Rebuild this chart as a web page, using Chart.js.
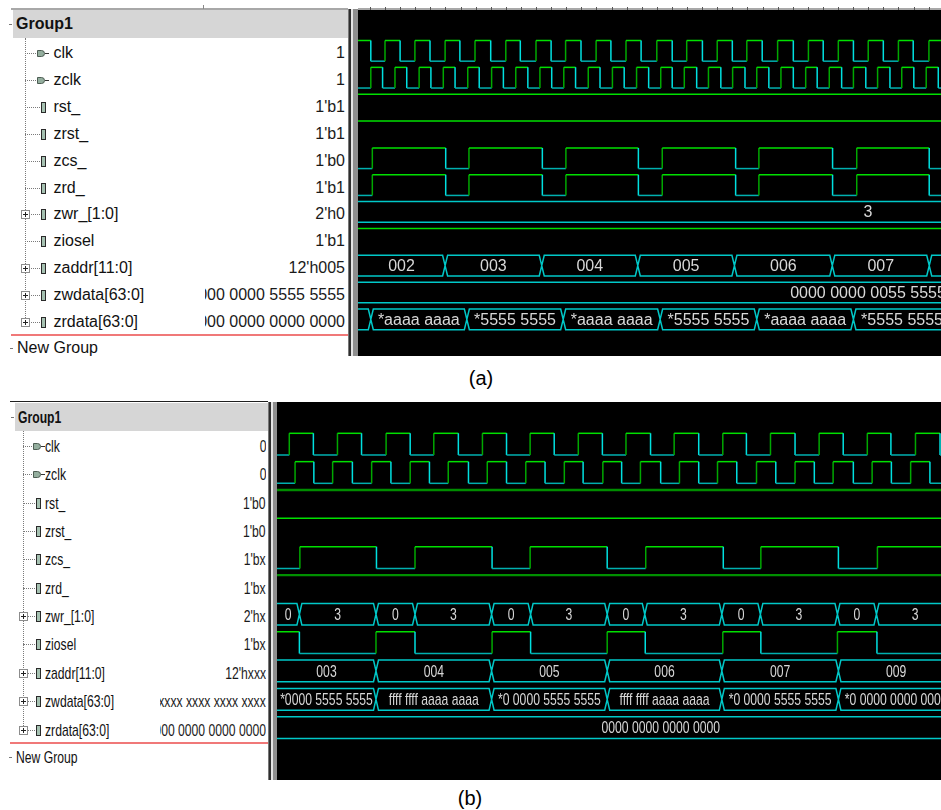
<!DOCTYPE html>
<html><head><meta charset="utf-8">
<script src="https://cdn.jsdelivr.net/npm/chart.js@4.4.1/dist/chart.umd.min.js"></script>
<style>
html,body{margin:0;padding:0;background:#fff;width:941px;height:810px;overflow:hidden;font-family:"Liberation Sans",Arial,sans-serif;color:#111;}
.a{position:absolute;box-sizing:border-box;}
.t{position:absolute;white-space:nowrap;}
canvas{position:absolute;}
</style></head><body>
<script>
// ================= DATA =================
const signalNames = ['clk','zclk','rst_','zrst_','zcs_','zrd_','zwr_[1:0]','ziosel','zaddr[11:0]','zwdata[63:0]','zrdata[63:0]'];
const signalIcons = ['clock','clock','bit','bit','bit','bit','bus','bit','bus','bus','bus'];
const cursorValuesA = ['1','1',"1'b1","1'b1","1'b0","1'b1","2'h0","1'b1","12'h005","64'h0000 0000 5555 5555","64'h0000 0000 0000 0000"];
const cursorValuesB = ['0','0',"1'b0","1'b0","1'bx","1'bx","2'hx","1'bx","12'hxxx","64'hxxxx xxxx xxxx xxxx","64'h0000 0000 0000 0000"];
const groupName = 'Group1';
const newGroupName = 'New Group';
const captions = ['(a)','(b)'];

// ---- panel (a): times in ns ----
const clkA_start = 1;
const clkA_edges = [5.3,10.0,15.0,19.9,24.9,29.9,34.8,39.8,45.0,50.0,54.8,60.0,65.0,69.8,74.9,79.9,84.8,89.8,94.8,100.0,105.1,109.9,115.1,120.0,125.0,129.8,134.9,140.0,145.2,150.2,155.1,160.1,165.1,170.0,175.0,180.0,184.9,190.1];
const zclkA_start = 0;
const zclkA_edges = [5.3,9.2,13.3,17.2,21.3,25.2,29.3,33.2,37.4,41.2,45.3,49.2,53.3,57.3,61.3,65.2,69.2,73.1,77.3,81.2,85.3,89.2,93.3,97.3,101.3,105.1,109.1,113.2,117.1,121.2,125.1,129.2,133.1,137.1,141.1,145.2,149.3,153.1,157.1,161.2,165.1,169.2,173.1,177.2,181.1,185.1,189.2,193.2];
const rstA_start = 1;   const rstA_edges = [];
const zrstA_start = 1;  const zrstA_edges = [];
const zcsA_start = 0;   const zcsA_edges = [5.8,30.1,37.8,62.1,69.9,93.9,101.8,126.1,133.8,158.2,166.2,190.2];
const zrdA_start = 0;   const zrdA_edges = [5.8,30.1,37.8,62.1,69.9,93.9,101.8,126.1,133.8,158.2,166.2,190.2];
const zioselA_start = 1; const zioselA_edges = [];
const zwrA_times = [338.8];
const zwrA_vals = ['3',''];
const zaddrA_times = [29.9,61.9,93.7,125.7,158.1,190.2,222.2];
const zaddrA_vals = ['002','003','004','005','006','007','008',''];
const zwdataA_times = [338.8];
const zwdataA_vals = ['0000 0000 0055 5555',''];
const zrdataA_times = [5.3,37.1,69.0,101.1,133.1,165.1,197.3];
const zrdataA_vals = ['*5555 5555','*aaaa aaaa','*5555 5555','*aaaa aaaa','*5555 5555','*aaaa aaaa','*5555 5555',''];

// ---- panel (b): times in ns ----
const clkB_start = 0;
const clkB_edges = [10.0,15.0,20.0,25.0,30.1,35.1,40.0,45.1,50.1,55.1,60.0,65.0,70.0,75.0,79.9,85.0,89.9,95.0,100.0,104.9,109.9,115.0,120.0,125.0,130.0,134.9,140.0,145.1];
const zclkB_start = 0;
const zclkB_edges = [11.2,15.1,19.0,23.1,27.1,31.1,35.1,39.1,43.0,47.2,51.1,55.1,59.1,63.1,67.1,71.0,75.1,79.0,82.9,87.1,91.0,95.0,98.9,102.9,107.0,111.0,115.0,119.0,122.9,127.1,131.0,135.0,139.0,143.0];
const rstB_start = 1;   const rstB_edges = [];
const zrstB_start = 1;  const zrstB_edges = [];
const zcsB_start = 0;   const zcsB_edges = [12.2,28.1,36.1,52.1,60.0,76.0,84.0,100.1,107.9,124.0,132.1];
const zrdB_start = 1;   const zrdB_edges = [];
const zioselB_start = 1; const zioselB_edges = [12.1,28.0,36.1,52.1,60.1,76.0,83.9,100.0,107.9,123.8,132.0];
const zwrB_times = [12.1,28.0,36.1,52.0,60.1,76.0,83.8,99.8,107.8,123.8,131.9,148.0];
const zwrB_vals = ['0','3','0','3','0','3','0','3','0','3','0','3',''];
const zaddrB_times = [28.0,52.0,76.0,99.8,124.0,148.0];
const zaddrB_vals = ['003','004','005','006','007','009',''];
const zwdataB_times = [28.0,52.0,76.0,99.8,124.0,148.0];
const zwdataB_vals = ['*0000 5555 5555','ffff ffff aaaa aaaa','*0 0000 5555 5555','ffff ffff aaaa aaaa','*0 0000 5555 5555','*0 0000 0000 0000',''];
const zrdataB_times = [166.8];
const zrdataB_vals = ['0000 0000 0000 0000',''];

// ================= LAYOUT / STYLE =================
const COLORS = {high:'#00e000', rise:'#00a800', low:'#00b0b0', fall:'#00e0e0', bus:'#00c8c8', label:'#d8d8d8'};

const panelA = {
  canvas:{left:358, top:0, width:583, height:356}, padTop:10,
  tmin:1.06, tmax:194.1, ymin:-1.136, ymax:11.75, lowOff:0.77, ruler:true,
  labelFont:16, labelSX:1,
  digital:[
    {row:0, start:clkA_start, edges:clkA_edges},
    {row:1, start:zclkA_start, edges:zclkA_edges},
    {row:2, start:rstA_start, edges:rstA_edges},
    {row:3, start:zrstA_start, edges:zrstA_edges},
    {row:4, start:zcsA_start, edges:zcsA_edges},
    {row:5, start:zrdA_start, edges:zrdA_edges},
    {row:7, start:zioselA_start, edges:zioselA_edges}],
  buses:[
    {row:6, times:zwrA_times, vals:zwrA_vals},
    {row:8, times:zaddrA_times, vals:zaddrA_vals},
    {row:9, times:zwdataA_times, vals:zwdataA_vals},
    {row:10, times:zrdataA_times, vals:zrdataA_vals}],
  list:{right:348, groupLeft:13, groupTop:10, groupBottom:38, rowY0:53.3, pitch:26.85,
        nameX:53.5, clockX:36.7, bitX:40.7, treeX:25, valueRight:345, valueClip:205,
        redY:335, redLeft:11, newGroupY:348, font:16, sx:1,
        splitX:348, splitTop:9, splitBottom:356, header:'grey', headerY:9, values:cursorValuesA},
  caption:{text:captions[0], x:481, y:378}
};
const panelB = {
  canvas:{left:277, top:402, width:664, height:378}, padTop:0,
  tmin:7.45, tmax:145.3, ymin:-1.104, ymax:12.229, lowOff:0.765, ruler:false,
  labelFont:17, labelSX:0.716,
  digital:[
    {row:0, start:clkB_start, edges:clkB_edges},
    {row:1, start:zclkB_start, edges:zclkB_edges},
    {row:2, start:rstB_start, edges:rstB_edges, style:{high:'#008c00', width:2.4}},
    {row:3, start:zrstB_start, edges:zrstB_edges},
    {row:4, start:zcsB_start, edges:zcsB_edges},
    {row:5, start:zrdB_start, edges:zrdB_edges, style:{high:'#009000', width:2.2}},
    {row:7, start:zioselB_start, edges:zioselB_edges}],
  buses:[
    {row:6, times:zwrB_times, vals:zwrB_vals},
    {row:8, times:zaddrB_times, vals:zaddrB_vals},
    {row:9, times:zwdataB_times, vals:zwdataB_vals},
    {row:10, times:zrdataB_times, vals:zrdataB_vals}],
  list:{right:268, groupLeft:15, groupTop:403, groupBottom:431, rowY0:446, pitch:28.35,
        nameX:45, clockX:33.3, bitX:36, treeX:23, valueRight:266, valueClip:160,
        redY:743, redLeft:10, newGroupY:757, font:17, sx:0.716,
        splitX:268, splitTop:402, splitBottom:780, header:'black', headerY:402, values:cursorValuesB},
  caption:{text:captions[1], x:470, y:798}
};

// ================= HTML helpers =================
function box(css){ const d=document.createElement('div'); d.className='a'; Object.assign(d.style,css); document.body.appendChild(d); return d; }
function px(v){ return v+'px'; }
function label(txt, x, yc, L, opts){
  opts = opts||{};
  const h = Math.round(L.font*1.25);
  const d = document.createElement('div'); d.className='t';
  d.style.left = px(x); d.style.top = px(yc - h/2); d.style.height=px(h); d.style.lineHeight=px(h);
  d.style.fontSize = px(L.font);
  if (opts.bold) d.style.fontWeight='bold';
  const s = document.createElement('span'); s.textContent = txt;
  s.style.display='inline-block'; s.style.transform='scaleX('+L.sx+')'; s.style.transformOrigin='left center';
  d.appendChild(s); document.body.appendChild(d); return d;
}
function valueText(txt, yc, L){
  const h = Math.round(L.font*1.25);
  const c = box({left:px(L.valueClip), top:px(yc-h/2), width:px(L.valueRight-L.valueClip), height:px(h), overflow:'hidden'});
  const s = document.createElement('span'); s.className='t'; s.textContent = txt;
  Object.assign(s.style,{right:'0px', top:'0px', lineHeight:px(h), fontSize:px(L.font), transform:'scaleX('+L.sx+')', transformOrigin:'right center', color:'#1a1a1a'});
  c.appendChild(s);
}
function buildList(P){
  const L = P.list;
  if (L.header==='grey'){
    box({left:px(L.groupLeft-2), top:px(L.headerY-1), width:px(L.right-L.groupLeft+2), height:'2px', background:'#a8a8a8'});
    box({left:px(L.valueClip-2), top:px(L.headerY-4), width:'1px', height:'4px', background:'#888'});
  } else {
    box({left:px(L.redLeft), top:px(L.headerY-1), width:px(L.right-L.redLeft), height:'1px', background:'#202020'});
  }
  box({left:px(L.groupLeft), top:px(L.groupTop), width:px(L.right-L.groupLeft), height:px(L.groupBottom-L.groupTop), background:'#d6d6d6'});
  const gy = (L.groupTop+L.groupBottom)/2;
  box({left:px(L.groupLeft-4), top:px(gy), width:'3px', height:'1px', background:'#777'});
  label(groupName, L.groupLeft+3, gy, L, {bold:true});
  const lastY = L.rowY0 + (signalNames.length-1)*L.pitch;
  box({left:px(L.treeX), top:px(L.groupBottom), width:'1px', height:px(lastY-L.groupBottom), borderLeft:'1px dotted #7a7a7a'});
  signalNames.forEach((nm,i)=>{
    const y = Math.round(L.rowY0 + i*L.pitch);
    const kind = signalIcons[i];
    const iconX = kind==='clock' ? L.clockX : L.bitX;
    box({left:px(L.treeX), top:px(y), width:px(iconX-L.treeX-1), height:'1px', borderTop:'1px dotted #7a7a7a'});
    if (kind==='bus'){
      box({left:px(L.treeX-4), top:px(y-4), width:'9px', height:'9px', border:'1px solid #8c8c8c', background:'#fff'});
      box({left:px(L.treeX-2), top:px(y), width:'5px', height:'1px', background:'#222'});
      box({left:px(L.treeX), top:px(y-2), width:'1px', height:'5px', background:'#222'});
    }
    if (kind==='clock'){
      box({left:px(iconX), top:px(y-3), width:'8px', height:'7px', background:'#94ae9e', border:'1px solid #4d5d53', borderRadius:'0 4px 4px 0'});
      box({left:px(iconX+8), top:px(y), width:'4px', height:'1px', background:'#333'});
    } else {
      box({left:px(iconX), top:px(y-5), width:'5px', height:'11px', background:'#a6c2b2', border:'1px solid #2a2a2a'});
    }
    label(nm, L.nameX, y, L);
    valueText(L.values[i], y, L);
  });
  box({left:px(L.redLeft), top:px(L.redY-1), width:px(L.right-L.redLeft), height:'2px', background:'#f07878'});
  box({left:px(L.redLeft-1), top:px(L.newGroupY), width:'3px', height:'1px', background:'#777'});
  label(newGroupName, L.redLeft+6, L.newGroupY, L);
  const sh = L.splitBottom - L.splitTop;
  box({left:px(L.splitX), top:px(L.splitTop), width:'1px', height:px(sh), background:'#777'});
  box({left:px(L.splitX+1), top:px(L.splitTop), width:'2px', height:px(sh), background:'#2e2e2e'});
  box({left:px(L.splitX+3), top:px(L.splitTop), width:'2px', height:px(sh), background:'#e4e4e4'});
  box({left:px(L.splitX+5), top:px(L.splitTop), width:px(P.canvas.left-L.splitX-5), height:px(sh), background:'#8e8e8e'});
  const c = document.createElement('div'); c.className='t';
  Object.assign(c.style,{left:px(P.caption.x-40), width:'80px', textAlign:'center', top:px(P.caption.y-13), height:'26px', lineHeight:'26px', fontSize:'20px', fontFamily:'Liberation Sans, Arial, sans-serif', color:'#000'});
  c.textContent = P.caption.text; document.body.appendChild(c);
}

// ================= Chart helpers =================
function digitalDataset(d, P){
  const st = Object.assign({high:COLORS.high, rise:COLORS.rise, low:COLORS.low, fall:COLORS.fall, width:1.5}, d.style||{});
  const yOf = l => d.row + (l ? 0 : P.lowOff);
  const pts=[], lv=[]; let v=d.start;
  pts.push({x:P.tmin-5, y:yOf(v)}); lv.push(v);
  d.edges.forEach(e=>{ pts.push({x:e, y:yOf(v)}); lv.push(v); v=1-v; pts.push({x:e, y:yOf(v)}); lv.push(v); });
  pts.push({x:P.tmax+5, y:yOf(v)}); lv.push(v);
  return {data:pts, borderWidth:st.width, pointRadius:0, fill:false, borderColor:st.high, tension:0,
    segment:{borderColor: c => { const a=pts[c.p0DataIndex], b=pts[c.p1DataIndex], l=lv[c.p1DataIndex];
      if (a.x===b.x) return l?st.rise:st.fall; return l?st.high:st.low; }}};
}
function busBounds(b, P){ return [P.tmin-20, ...b.times, Math.max(P.tmax+20, b.times[b.times.length-1]+20)]; }
function busDataset(b, P){
  const dT = 2.5*(P.tmax-P.tmin)/P.canvas.width;
  const top=b.row, bot=b.row+P.lowOff, mid=b.row+P.lowOff/2;
  const bd = busBounds(b,P); const pts=[];
  for (let k=0;k<bd.length-1;k++){
    const s=bd[k], e=bd[k+1];
    pts.push({x:s,y:mid},{x:s+dT,y:top},{x:e-dT,y:top},{x:e,y:mid},{x:e-dT,y:bot},{x:s+dT,y:bot},{x:s,y:mid},{x:e,y:null});
  }
  return {data:pts, borderWidth:1.5, pointRadius:0, fill:false, borderColor:COLORS.bus, tension:0, spanGaps:false};
}
function makeChart(P){
  const cv = document.createElement('canvas');
  cv.width = P.canvas.width; cv.height = P.canvas.height;
  Object.assign(cv.style,{left:px(P.canvas.left), top:px(P.canvas.top), width:px(P.canvas.width), height:px(P.canvas.height)});
  document.body.appendChild(cv);
  const datasets = [...P.digital.map(d=>digitalDataset(d,P)), ...P.buses.map(b=>busDataset(b,P))];
  const bg = {id:'bg', beforeDraw(ch){ const a=ch.chartArea, c=ch.ctx; c.save(); c.fillStyle='#000'; c.fillRect(a.left,a.top,a.right-a.left,a.bottom-a.top); c.restore(); }};
  const ruler = {id:'ruler', afterDraw(ch){ if(!P.ruler) return; const a=ch.chartArea, c=ch.ctx, xs=ch.scales.x;
    c.save(); c.fillStyle='#a8a8a8'; c.fillRect(a.left, a.top-2, a.right-a.left, 2);
    c.fillStyle='#555'; for(let t=Math.ceil(xs.min/5)*5; t<=xs.max; t+=5){ const x=Math.round(xs.getPixelForValue(t)); c.fillRect(x, a.top-3, 1, 3); }
    c.restore(); }};
  const labels = {id:'busLabels', afterDatasetsDraw(ch){ const a=ch.chartArea, c=ch.ctx, xs=ch.scales.x, ys=ch.scales.y;
    c.save(); c.beginPath(); c.rect(a.left,a.top,a.right-a.left,a.bottom-a.top); c.clip();
    c.font = P.labelFont+'px "Liberation Sans", Arial, sans-serif'; c.fillStyle=COLORS.label; c.textBaseline='middle'; c.textAlign='center';
    P.buses.forEach(b=>{ const bd=busBounds(b,P); const y=ys.getPixelForValue(b.row+P.lowOff/2)+1;
      b.vals.forEach((txt,k)=>{ if(!txt) return; const s=Math.max(bd[k], xs.min), e=bd[k+1];
        const x0=xs.getPixelForValue(s), x1=xs.getPixelForValue(e); const w=c.measureText(txt).width*P.labelSX;
        if (w > (x1-x0)-3) return;
        c.save(); c.translate((x0+x1)/2, y); c.scale(P.labelSX,1); c.fillText(txt,0,0); c.restore(); }); });
    c.restore(); }};
  new Chart(cv, {type:'line', data:{datasets},
    options:{responsive:false, animation:false, devicePixelRatio:1, events:[],
      layout:{padding:{top:P.padTop,left:0,right:0,bottom:0}},
      scales:{x:{type:'linear', min:P.tmin, max:P.tmax, display:false},
              y:{type:'linear', min:P.ymin, max:P.ymax, reverse:true, display:false}},
      plugins:{legend:{display:false}, tooltip:{enabled:false}}},
    plugins:[bg, ruler, labels]});
}
[panelA, panelB].forEach(P=>{ buildList(P); makeChart(P); });
</script>
</body></html>
